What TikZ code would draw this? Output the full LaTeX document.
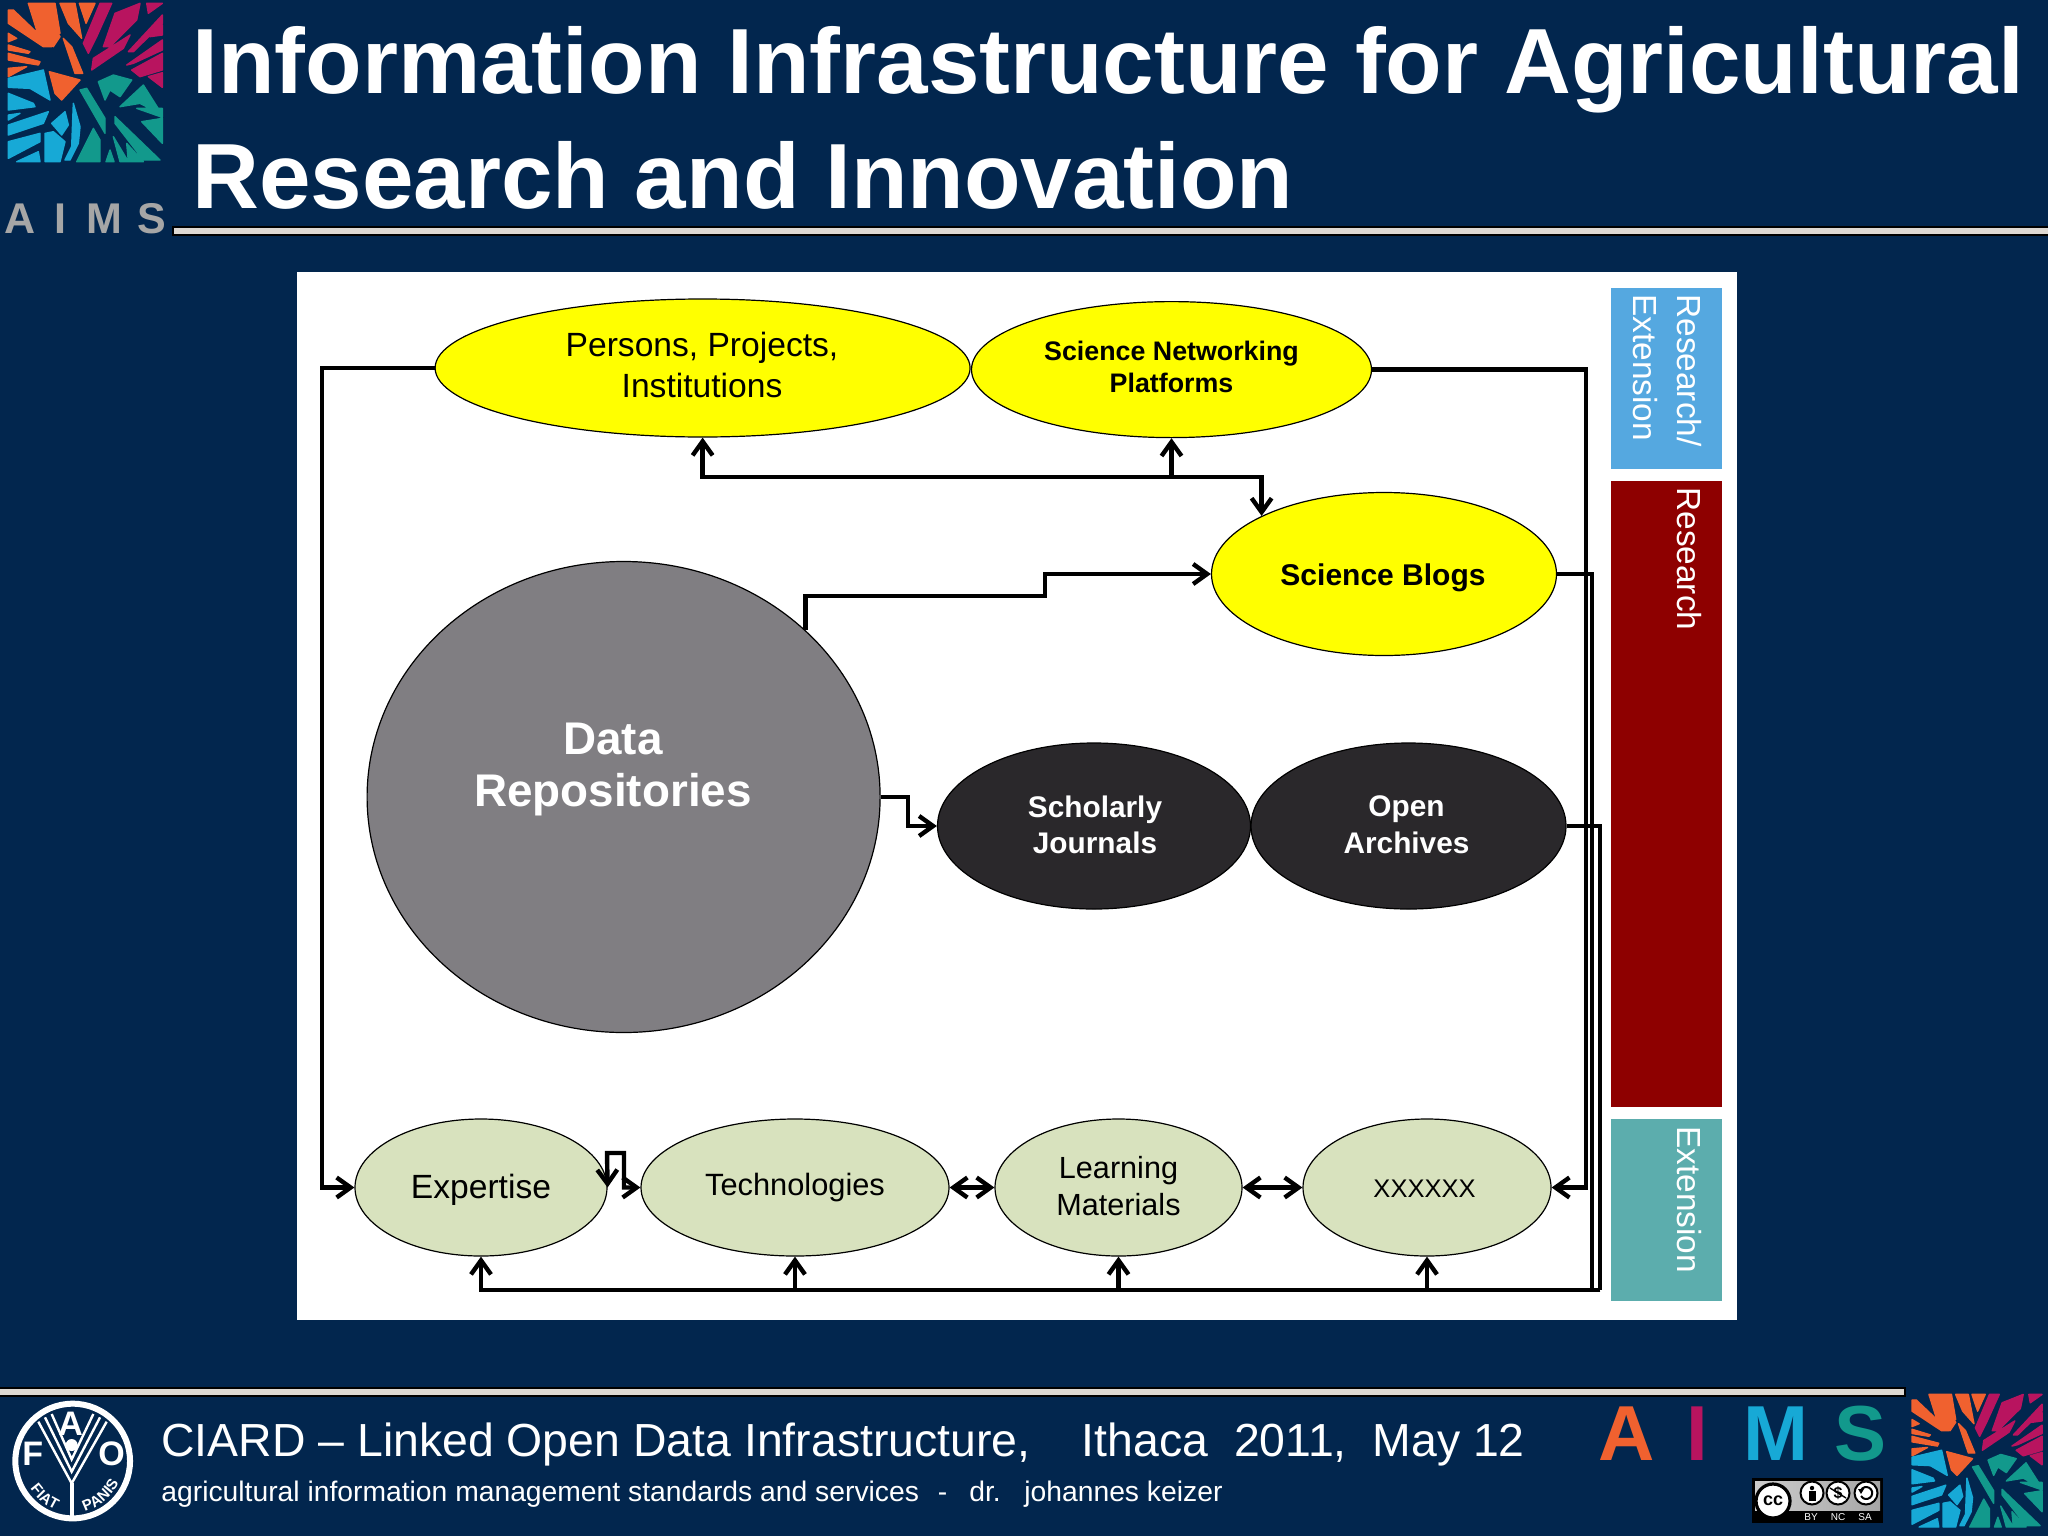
\documentclass[tikz,border=0pt]{standalone}
\usepackage{fontspec}
\setmainfont{Liberation Sans}
\usepackage{xcolor}
\usetikzlibrary{positioning,shapes.geometric,arrows.meta,decorations.text}

\definecolor{slideBg}{HTML}{02264E}
\definecolor{ruleFill}{HTML}{DDD8D2}
\definecolor{softGreen}{HTML}{D8E2BE}
\definecolor{darkBubble}{HTML}{2A282B}
\definecolor{repoGrey}{HTML}{807E82}
\definecolor{pureYellow}{HTML}{FFFF00}
\definecolor{sideBlue}{HTML}{55A8E0}
\definecolor{sideRed}{HTML}{8E0000}
\definecolor{sideTeal}{HTML}{5CADAD}
\definecolor{logoOrange}{HTML}{F0612F}
\definecolor{logoRed}{HTML}{B8145F}
\definecolor{logoBlue}{HTML}{17A9D6}
\definecolor{logoTeal}{HTML}{12998C}

\newcommand{\sz}[2]{\fontsize{#1}{#2}\selectfont}

% vetrata del logo, coordinate locali
\newcommand{\logoglass}{%
  \filldraw[logoOrange, line width=.7pt, line join=round] (85,10)--(125,10)--(180,110)--(160,140)--(110,90)--cycle
    (25,30)--(40,30)--(155,140)--(130,140)--(25,70)--cycle
    (125,10)--(165,10)--(180,100)--cycle
    (180,10)--(225,10)--(245,115)--(205,70)--cycle
    (238,10)--(285,10)--(258,70)--cycle
    (190,115)--(215,140)--(248,220)--(225,220)--cycle
    (25,135)--(90,155)--(85,160)--(25,150)--cycle
    (25,160)--(120,185)--(115,195)--(25,180)--cycle
    (25,100)--(50,115)--(25,125)--cycle
    (25,205)--(80,200)--(25,230)--cycle
    (148,215)--(240,240)--(185,300)--(165,280)--cycle;
  \filldraw[logoRed, line width=.7pt, line join=round] (300,10)--(335,10)--(290,110)--(265,160)--(250,130)--cycle
    (345,40)--(420,10)--(410,60)--(330,140)--(310,140)--cycle
    (440,10)--(487,10)--(445,40)--cycle
    (385,155)--(487,45)--(487,70)--(400,155)--cycle
    (275,210)--(280,175)--(390,105)--(370,145)--cycle
    (460,80)--(487,75)--(487,105)--(450,110)--cycle
    (380,195)--(487,120)--(487,150)--(400,190)--cycle
    (395,210)--(487,160)--(487,210)--(420,230)--cycle
    (445,230)--(487,218)--(487,262)--cycle;
  \filldraw[logoBlue, line width=.7pt, line join=round] (25,235)--(130,210)--(150,300)--(90,265)--(25,262)--cycle
    (25,280)--(100,310)--(105,320)--(25,330)--cycle
    (25,345)--(60,340)--(25,360)--cycle
    (25,375)--(145,335)--(130,370)--(25,405)--cycle
    (25,425)--(120,400)--(120,425)--(25,475)--cycle
    (50,485)--(115,455)--(120,485)--cycle
    (135,485)--(135,400)--(160,395)--(195,425)--(180,485)--cycle
    (155,370)--(195,335)--(205,375)--(185,405)--cycle
    (195,480)--(215,440)--(220,310)--(240,380)--(235,430)--(210,480)--cycle;
  \filldraw[logoTeal, line width=.7pt, line join=round] (295,245)--(340,225)--(395,240)--(360,290)--(330,270)--(315,300)--cycle
    (360,320)--(430,255)--(487,345)--(420,310)--cycle
    (410,325)--(487,325)--(487,352)--cycle
    (240,270)--(260,265)--(315,355)--(315,400)--cycle
    (345,350)--(480,480)--(430,480)--(345,370)--cycle
    (425,365)--(487,355)--(487,430)--cycle
    (230,485)--(280,385)--(300,420)--(300,485)--cycle
    (340,410)--(385,485)--(360,485)--cycle
    (318,485)--(330,450)--(342,485)--cycle
    (380,430)--(430,485)--(385,485)--cycle;
}
\newcommand{\fiatfont}{\color{white}\bfseries\sz{7.5}{8}}

\tikzset{
  bubble/.style={ellipse, draw=black, line width=.6pt, inner sep=0pt, align=center},
  bubbletext/.style={inner sep=0pt, align=center},
  sidebar/.style={rectangle, minimum width=55.5pt, inner sep=0pt},
  sidetext/.style={rotate=-90, anchor=base west, inner sep=0pt, text=white, font=\sz{16.7}{21}},
  wire/.style={line width=2.2pt, line join=miter},
  toprule/.style={draw=black, fill=ruleFill, line width=.8pt},
  ccicon/.style={circle, draw=black, fill=white, line width=1pt, minimum size=11.5pt, inner sep=0pt},
  cclabel/.style={inner sep=0pt, text=white, font=\sz{5}{5}},
}

\begin{document}
\begin{tikzpicture}[x=0.5pt, y=-0.5pt, >={Straight Barb[length=7pt,width=10pt]}]
  \useasboundingbox (0,0) rectangle (2048,1536);
  \fill[slideBg] (0,0) rectangle (2048,1536);

  %testata
  \draw[toprule] (173,227) rectangle (2052,235);
  \node[anchor=base west, inner sep=0pt, text=white, font=\bfseries\sz{46.3}{54}] (titleA) at (192,94) {Information Infrastructure for Agricultural};
  \node[anchor=base west, inner sep=0pt, text=white, font=\bfseries\sz{46.3}{54}] (titleB) at (192,208) {Research and Innovation};
  \begin{scope}[shift={(0,0)}, x=0.1667pt, y=-0.1667pt]
    \logoglass
  \end{scope}
  \node[anchor=base, inner sep=0pt, text=black!35, font=\bfseries\sz{21.5}{24}] (grayA) at (20,233) {A};
  \node[anchor=base, inner sep=0pt, text=black!35, font=\bfseries\sz{21.5}{24}] (grayI) at (60,233) {I};
  \node[anchor=base, inner sep=0pt, text=black!35, font=\bfseries\sz{21.5}{24}] (grayM) at (104,233) {M};
  \node[anchor=base, inner sep=0pt, text=black!35, font=\bfseries\sz{21.5}{24}] (grayS) at (152,233) {S};

  %pannello bianco
  \fill[white] (296.5,272) rectangle (1737,1320);

  %barre laterali
  \node[sidebar, fill=sideBlue, minimum height=90.5pt] (sideA) at (1666,378) {};
  \node[sidebar, fill=sideRed, minimum height=313pt] (sideB) at (1666,794) {};
  \node[sidebar, fill=sideTeal, minimum height=91pt] (sideC) at (1666,1210) {};
  \node[sidetext] (sideAa) at (1677,294) {Research/};
  \node[sidetext] (sideAb) at (1633,294) {Extension};
  \node[sidetext] (sideBa) at (1677,487) {Research};
  \node[sidetext] (sideCa) at (1677,1126) {Extension};

  %bolle
  \node[bubble, fill=pureYellow, minimum width=267.5pt, minimum height=69pt] (persons) at (702.6,368) {};
  \node[bubble, fill=pureYellow, minimum width=200pt, minimum height=68pt] (network) at (1171.5,369.6) {};
  \node[bubble, fill=pureYellow, minimum width=172.5pt, minimum height=81.5pt] (blogs) at (1384,574) {};
  \node[bubble, fill=repoGrey, minimum width=256.5pt, minimum height=235.5pt] (data) at (623.6,797) {};
  \node[bubble, fill=darkBubble, minimum width=156.5pt, minimum height=83pt] (journals) at (1094,826) {};
  \node[bubble, fill=darkBubble, minimum width=157.5pt, minimum height=83pt] (archives) at (1408.5,826) {};
  \node[bubble, fill=softGreen, minimum width=126pt, minimum height=68.5pt] (expertise) at (481,1187.5) {};
  \node[bubble, fill=softGreen, minimum width=154pt, minimum height=68.5pt] (tech) at (795,1187.5) {};
  \node[bubble, fill=softGreen, minimum width=123.5pt, minimum height=68.5pt] (learning) at (1118.5,1187.5) {};
  \node[bubble, fill=softGreen, minimum width=124pt, minimum height=68.5pt] (other) at (1427,1187.5) {};

  %testi delle bolle
  \node[bubbletext, font=\sz{16.8}{20.9}] (personsText) at (702,365) {Persons, Projects,\\Institutions};
  \node[bubbletext, font=\bfseries\sz{13.4}{15.7}] (networkText) at (1171.5,367) {Science Networking\\Platforms};
  \node[bubbletext, font=\bfseries\sz{15}{18}] (blogsText) at (1383,578) {Science Blogs};
  \node[bubbletext, text=white, font=\bfseries\sz{22.9}{26}] (dataText) at (613,769) {Data\\Repositories};
  \node[bubbletext, text=white, font=\bfseries\sz{14.9}{18.3}] (journalsText) at (1095,825) {Scholarly\\Journals};
  \node[bubbletext, text=white, font=\bfseries\sz{14.9}{18.3}] (archivesText) at (1406.5,825) {Open\\Archives};
  \node[bubbletext, font=\sz{16.8}{20}] (expertiseText) at (481,1190) {Expertise};
  \node[bubbletext, font=\sz{15.4}{18.3}] (techText) at (795,1188) {Technologies};
  \node[bubbletext, font=\sz{15.3}{18.3}] (learningText) at (1118.5,1186) {Learning\\Materials};
  \node[bubbletext, font=\sz{12.75}{18.3}] (otherText) at (1424.5,1189) {XXXXXX};

  %snodi
  \coordinate (leftBus) at (322,1187.5);
  \coordinate (topBus) at (1171.5,477);
  \coordinate (stepA) at (1045,596);
  \coordinate (stepB) at (908,826);
  \coordinate (busA) at (1586,1187.5);
  \coordinate (busB) at (1592,1290);
  \coordinate (busC) at (1600,1290);
  \coordinate (kinkA) at (607,1153);
  \coordinate (kinkB) at (624,1153);

  %frecce
  \draw[wire,->] (persons.west) -| (leftBus) -- (expertise.west);
  \draw[wire,->] (topBus) -| (persons.south);
  \draw[wire,->] (topBus) -- (network.south);
  \draw[wire,->] (topBus) -| (blogs.north west);
  \draw[wire,->] (data.north east) |- (stepA) |- (blogs.west);
  \draw[wire,->] (data.east) -| (stepB) -- (journals.west);
  \draw[wire,->] (network.east) -| (busA) -- (other.east);
  \draw[wire] (blogs.east) -| (busB);
  \draw[wire] (archives.east) -| (busC);
  \draw[wire,->] (busC) -| (expertise.south);
  \draw[wire,->] (busC) -| (tech.south);
  \draw[wire,->] (busC) -| (learning.south);
  \draw[wire,->] (busC) -| (other.south);
  \draw[wire,<->] (expertise.east) -- (kinkA) -- (kinkB) |- (tech.west);
  \draw[wire,<->] (tech.east) -- (learning.west);
  \draw[wire,<->] (learning.east) -- (other.west);

  %piede
  \draw[toprule] (-4,1388) rectangle (1905,1396);
  \node[anchor=base west, inner sep=0pt, text=white, font=\sz{23.2}{26}] (footA) at (161,1456) {CIARD -- Linked Open Data Infrastructure,\ \ \ \ Ithaca\ \ 2011,\ \ May 12};
  \node[anchor=base west, inner sep=0pt, text=white, font=\sz{14.14}{17}] (footB) at (161,1501) {agricultural information management standards and services\hspace{9.5pt}-\hspace{11pt}dr.\ \ \ johannes keizer};

  %logo FAO
  \begin{scope}[shift={(0,1380)}, x=0.1667pt, y=-0.1667pt]
    \draw[white, line width=3pt] (218,243) circle[radius=172*0.1667pt];
    \draw[white, line width=1.2pt] (115,125) -- (215,310) -- (320,125);
    \draw[white, line width=1.2pt] (135,112) -- (215,275) -- (300,112);
    \draw[white, line width=1.2pt] (155,102) -- (215,238) -- (280,102);
    \fill[white] (215,195) circle[radius=18*0.1667pt];
    \draw[white, line width=2pt] (215,310) -- (215,415);
    \node[inner sep=0pt, text=white, font=\bfseries\sz{17}{17}] (faoF) at (98,220) {F};
    \node[inner sep=0pt, text=white, font=\bfseries\sz{17}{17}] (faoA) at (212,132) {A};
    \node[inner sep=0pt, text=white, font=\bfseries\sz{17}{17}] (faoO) at (335,220) {O};
    \path[decorate, decoration={text along path, text={|\fiatfont|FIAT}, text align=center}]
      (75,300) .. controls (100,350) and (140,385) .. (195,400);
    \path[decorate, decoration={text along path, text={|\fiatfont|PANIS}, text align=center}]
      (235,400) .. controls (290,390) and (340,350) .. (365,290);
  \end{scope}

  %logo in basso a destra
  \begin{scope}[shift={(1905,1391.6)}, x=0.1407pt, y=-0.1396pt]
    \logoglass
  \end{scope}
  \node[anchor=base, inner sep=0pt, text=logoOrange, font=\bfseries\sz{39}{42}] (footLogoA) at (1627,1460) {A};
  \node[anchor=base, inner sep=0pt, text=logoRed, font=\bfseries\sz{39}{42}] (footLogoI) at (1697,1460) {I};
  \node[anchor=base, inner sep=0pt, text=logoBlue, font=\bfseries\sz{39}{42}] (footLogoM) at (1776,1460) {M};
  \node[anchor=base, inner sep=0pt, text=logoTeal, font=\bfseries\sz{39}{42}] (footLogoS) at (1860,1460) {S};

  %licenza
  \fill[black] (1752,1478) rectangle (1883,1523);
  \shade[left color=black!20, right color=black!35] (1755,1481) rectangle (1880,1510);
  \node[circle, draw=black, fill=white, line width=1.6pt, minimum size=17pt, inner sep=0pt, font=\bfseries\sz{9}{9}] (ccMain) at (1773,1501) {cc};
  \node[ccicon] (ccBy) at (1812,1493) {};
  \fill[black] (1812,1488) circle[radius=1.1pt];
  \fill[black] (1808.5,1491) rectangle (1815.5,1501);
  \node[ccicon, font=\bfseries\sz{8}{8}] (ccNc) at (1838,1493) {\$};
  \draw[black, line width=.7pt] (1830,1488) -- (1846,1498);
  \node[ccicon] (ccSa) at (1866,1493) {};
  \draw[black, line width=1pt] (1861,1490) arc[start angle=150, end angle=-150, radius=3pt];
  \fill[black] (1858,1489) -- (1864,1489) -- (1861,1494) -- cycle;
  \node[cclabel] (ccByT) at (1811,1517) {BY};
  \node[cclabel] (ccNcT) at (1838,1517) {NC};
  \node[cclabel] (ccSaT) at (1865,1517) {SA};
\end{tikzpicture}
\end{document}
